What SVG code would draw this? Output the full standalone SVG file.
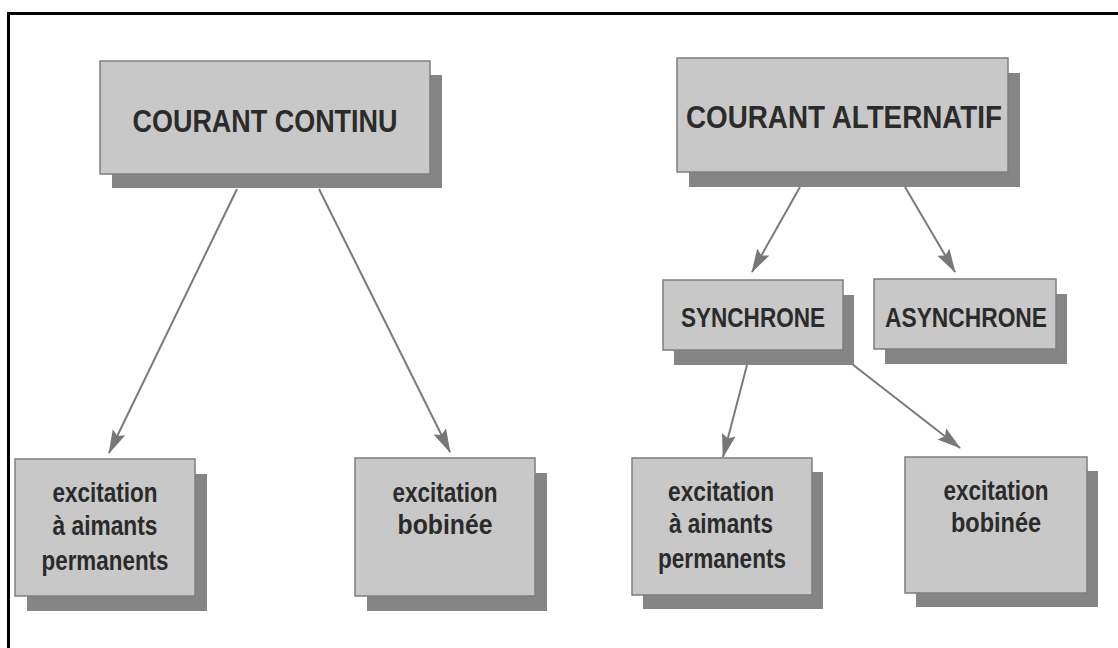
<svg xmlns="http://www.w3.org/2000/svg" width="1118" height="648" viewBox="0 0 1118 648">
  <defs>
    <marker id="ah" markerUnits="userSpaceOnUse" markerWidth="24" markerHeight="16" viewBox="0 0 24 16" refX="23" refY="8" orient="auto">
      <path d="M0,1 L24,8 L0,15 L4,8 Z" fill="#777777"/>
    </marker>
    <style>
      .shadow { fill: #858585; }
      .box { fill: #c8c8c8; stroke: #7e7e7e; stroke-width: 1.5; }
      .t { font-family: "Liberation Sans", Arial, sans-serif; font-weight: bold; fill: #2b2b2b; text-anchor: middle; }
      .big { font-size: 32px; }
      .mid { font-size: 27px; }
      .sm { font-size: 28px; }
      .conn line { stroke: #7a7a7a; stroke-width: 2; marker-end: url(#ah); }
    </style>
  </defs>
  <rect width="1118" height="648" fill="#ffffff"/>
  <!-- frame -->
  <path d="M8.5,648 L8.5,13.5 L1118,13.5" fill="none" stroke="#000" stroke-width="3"/>

  <g id="courant-continu">
    <rect class="shadow" x="112" y="75" width="330" height="113"/>
    <rect class="box" x="100" y="61" width="330" height="113"/>
    <text class="t big" x="265" y="132" textLength="265" lengthAdjust="spacingAndGlyphs">COURANT CONTINU</text>
  </g>

  <g id="courant-alternatif">
    <rect class="shadow" x="689" y="73" width="331" height="114"/>
    <rect class="box" x="677" y="58" width="331" height="114"/>
    <text class="t big" x="844" y="128" textLength="316" lengthAdjust="spacingAndGlyphs">COURANT ALTERNATIF</text>
  </g>

  <g id="synchrone">
    <rect class="shadow" x="674" y="295" width="180" height="70"/>
    <rect class="box" x="663" y="280" width="180" height="70"/>
    <text class="t mid" x="753" y="327" textLength="144" lengthAdjust="spacingAndGlyphs">SYNCHRONE</text>
  </g>

  <g id="asynchrone">
    <rect class="shadow" x="885" y="294" width="182" height="70"/>
    <rect class="box" x="874" y="279" width="182" height="70"/>
    <text class="t mid" x="966" y="327" textLength="162" lengthAdjust="spacingAndGlyphs">ASYNCHRONE</text>
  </g>

  <g id="cc-aimants">
    <rect class="shadow" x="27" y="474" width="180" height="137"/>
    <rect class="box" x="15" y="459" width="180" height="137"/>
    <text class="t sm" x="105" y="502" textLength="105" lengthAdjust="spacingAndGlyphs">excitation</text>
    <text class="t sm" x="105" y="535" textLength="105" lengthAdjust="spacingAndGlyphs">à aimants</text>
    <text class="t sm" x="105" y="570" textLength="127" lengthAdjust="spacingAndGlyphs">permanents</text>
  </g>

  <g id="cc-bobinee">
    <rect class="shadow" x="367" y="473" width="180" height="138"/>
    <rect class="box" x="355" y="458" width="180" height="138"/>
    <text class="t sm" x="445" y="502" textLength="105" lengthAdjust="spacingAndGlyphs">excitation</text>
    <text class="t sm" x="445" y="534" textLength="95" lengthAdjust="spacingAndGlyphs">bobinée</text>
  </g>

  <g id="ca-aimants">
    <rect class="shadow" x="643" y="472" width="180" height="137"/>
    <rect class="box" x="632" y="458" width="180" height="137"/>
    <text class="t sm" x="721" y="501" textLength="106" lengthAdjust="spacingAndGlyphs">excitation</text>
    <text class="t sm" x="721" y="533" textLength="104" lengthAdjust="spacingAndGlyphs">à aimants</text>
    <text class="t sm" x="722" y="568" textLength="128" lengthAdjust="spacingAndGlyphs">permanents</text>
  </g>

  <g id="ca-bobinee">
    <rect class="shadow" x="916" y="471" width="182" height="136"/>
    <rect class="box" x="905" y="457" width="182" height="136"/>
    <text class="t sm" x="996" y="500" textLength="105" lengthAdjust="spacingAndGlyphs">excitation</text>
    <text class="t sm" x="996" y="532" textLength="90" lengthAdjust="spacingAndGlyphs">bobinée</text>
  </g>

  <g id="connectors" class="conn">
    <line x1="237" y1="189" x2="109" y2="453"/>
    <line x1="319" y1="189" x2="450" y2="452"/>
    <line x1="800" y1="187" x2="752" y2="272"/>
    <line x1="905" y1="187" x2="955" y2="272"/>
    <line x1="747" y1="365" x2="723" y2="457"/>
    <line x1="852" y1="364" x2="960" y2="448"/>
  </g>
</svg>
